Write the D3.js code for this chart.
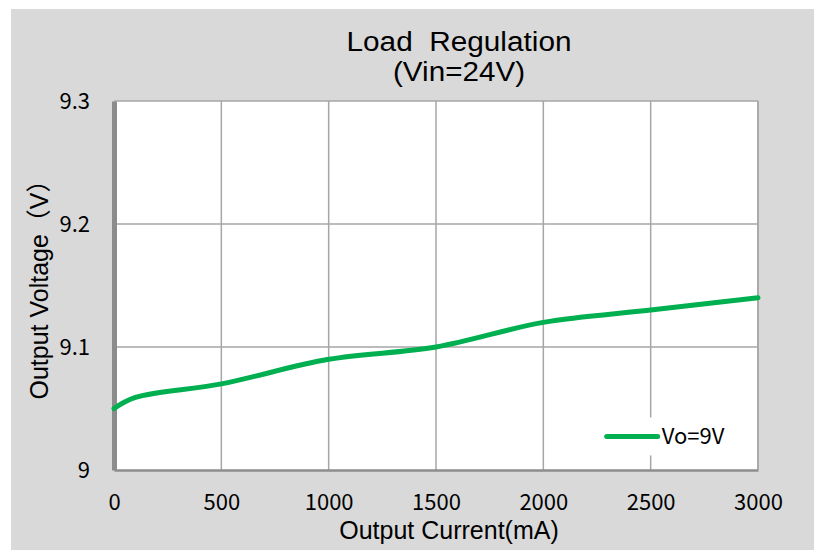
<!DOCTYPE html>
<html>
<head>
<meta charset="utf-8">
<script src="https://cdn.jsdelivr.net/npm/d3@7"></script>
<style>
  html, body { margin: 0; padding: 0; background: #ffffff; }
  svg { display: block; }
</style>
</head>
<body>
<svg id="svg_chart" width="814" height="550"></svg>
<script>
// data
const current_mA = [0, 100, 500, 1000, 1500, 2000, 2500, 3000];
const vo_9v = [9.05, 9.059, 9.07, 9.09, 9.10, 9.12, 9.13, 9.14];
const x_ticks = [0, 500, 1000, 1500, 2000, 2500, 3000];
const y_ticks = [9, 9.1, 9.2, 9.3];
const series_name = 'Vo=9V';

const svg = d3.select('svg#svg_chart');
const margin = { top: 101, right: 56, bottom: 80, left: 114 };
const width = 814 - margin.left - margin.right;
const height = 550 - margin.top - margin.bottom;

const font_latin = '"Liberation Sans", Arial, sans-serif';
const font_ticks = '"Noto Sans CJK SC", "Noto Sans", sans-serif';

// gray chart area
svg.append('rect')
  .attr('x', 11).attr('y', 9)
  .attr('width', 814 - 11).attr('height', 550 - 9)
  .attr('fill', '#d9d9d9');

const x = d3.scaleLinear().domain([0, 3000]).range([0, width]);
const y = d3.scaleLinear().domain([9, 9.3]).range([height, 0]);

const g = svg.append('g')
  .attr('transform', `translate(${margin.left},${margin.top})`);

g.append('rect')
  .attr('width', width).attr('height', height)
  .attr('fill', '#ffffff');

// grid
g.append('g')
  .selectAll('line.vgrid')
  .data(x_ticks.slice(1))
  .enter()
  .append('line')
  .attr('x1', d => x(d)).attr('x2', d => x(d))
  .attr('y1', 0).attr('y2', height)
  .attr('stroke', '#a6a6a6').attr('stroke-width', 1.5);

g.append('g')
  .selectAll('line.hgrid')
  .data(y_ticks.slice(1))
  .enter()
  .append('line')
  .attr('x1', 0).attr('x2', width)
  .attr('y1', d => y(d)).attr('y2', d => y(d))
  .attr('stroke', '#a6a6a6').attr('stroke-width', 1.5);

// axes
const xAxis = d3.axisBottom(x).tickValues(x_ticks).tickSize(0).tickPadding(24).tickFormat(d3.format('d'));
const yAxis = d3.axisLeft(y).tickValues(y_ticks).tickSize(0).tickPadding(24).tickFormat(d => d);

const gx = g.append('g')
  .attr('transform', `translate(0,${height})`)
  .call(xAxis);
gx.select('.domain').attr('stroke', '#8c8c8c').attr('stroke-width', 2.5);

const gy = g.append('g').call(yAxis);
gy.select('.domain').attr('stroke', '#8c8c8c').attr('stroke-width', 5);

[gx, gy].forEach(ax => ax.selectAll('text')
  .style('font-family', font_ticks)
  .style('font-size', '22px')
  .attr('fill', '#000'));

// right border
g.append('line')
  .attr('x1', width).attr('x2', width)
  .attr('y1', 0).attr('y2', height)
  .attr('stroke', '#a6a6a6').attr('stroke-width', 1.5);

// series
const line = d3.line()
  .x((d, i) => x(current_mA[i]))
  .y(d => y(d))
  .curve(d3.curveCatmullRom.alpha(0.5));

g.append('path')
  .datum(vo_9v)
  .attr('d', line)
  .attr('fill', 'none')
  .attr('stroke', '#00b050')
  .attr('stroke-width', 5)
  .attr('stroke-linecap', 'round');

// legend
const lgd = g.append('g')
  .attr('transform', `translate(${x(2295)},${y(0.0273 + 9)})`);
lgd.append('rect')
  .attr('x', -8).attr('y', -19)
  .attr('width', 140).attr('height', 38)
  .attr('fill', '#ffffff');
lgd.append('line')
  .attr('x1', 0).attr('x2', 51)
  .attr('y1', 0).attr('y2', 0)
  .attr('stroke', '#00b050').attr('stroke-width', 5)
  .attr('stroke-linecap', 'round');
lgd.append('text')
  .attr('x', 55).attr('y', 8)
  .style('font-family', font_ticks)
  .style('font-size', '22px')
  .text(series_name);

// titles
const title = svg.append('text')
  .attr('text-anchor', 'middle')
  .style('font-family', font_latin)
  .style('font-size', '27px');
title.append('tspan').attr('x', 459).attr('y', 51)
  .attr('textLength', 225).attr('lengthAdjust', 'spacingAndGlyphs')
  .text('Load\u00a0\u00a0Regulation');
title.append('tspan').attr('x', 459).attr('y', 81)
  .attr('textLength', 132).attr('lengthAdjust', 'spacingAndGlyphs')
  .text('(Vin=24V)');

svg.append('text')
  .attr('x', margin.left + width / 2 + 13)
  .attr('y', 539)
  .attr('text-anchor', 'middle')
  .style('font-family', font_latin)
  .style('font-size', '25px')
  .text('Output Current(mA)');

svg.append('text')
  .attr('transform', `translate(48,${margin.top + height / 2 - 2}) rotate(-90)`)
  .attr('text-anchor', 'middle')
  .style('font-family', '"Liberation Sans", "Noto Sans CJK SC", sans-serif')
  .style('font-size', '25px')
  .text('Output Voltage（V）');
</script>
</body>
</html>
